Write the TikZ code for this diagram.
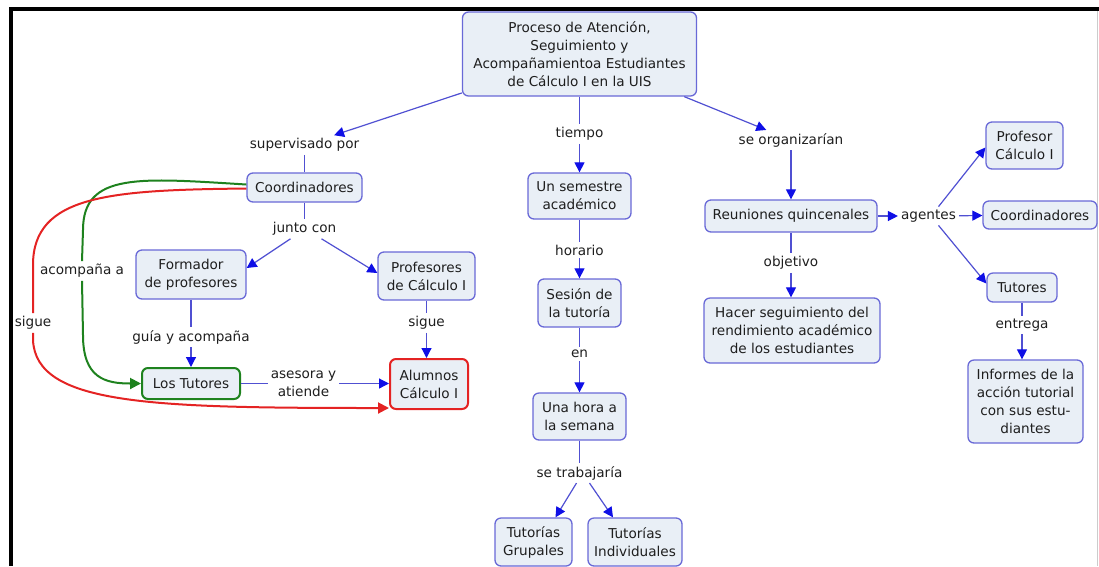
\documentclass[tikz,border=0pt]{standalone}
\usepackage{fontspec}
\setmainfont{DejaVu Sans}
\usetikzlibrary{arrows.meta,calc}
\definecolor{boxfill}{RGB}{233,239,246}
\definecolor{boxdraw}{RGB}{105,105,215}
\definecolor{linkc}{RGB}{80,80,210}
\definecolor{arrc}{RGB}{15,15,230}
\definecolor{grn}{RGB}{30,130,30}
\definecolor{rd}{RGB}{228,35,35}
\definecolor{txt}{RGB}{30,30,30}
\begin{document}
\begin{tikzpicture}[x=1pt,y=-1pt,
  every node/.style={font=\fontsize{13.6}{18}\selectfont, text=txt},
  concept/.style={draw=boxdraw, fill=boxfill, rounded corners=6pt, line width=1.3pt, align=center, inner sep=0pt},
  gconcept/.style={concept, draw=grn, line width=2pt},
  rconcept/.style={concept, draw=rd, line width=2pt},
  phrase/.style={align=center, inner sep=3pt},
  lnk/.style={draw=linkc, line width=1.2pt},
  arr/.style={lnk, -{Triangle[length=10pt,width=10pt,color=arrc]}},
  glnk/.style={draw=grn, line width=2pt},
  garr/.style={glnk, -{Triangle[length=11pt,width=11pt,color=grn]}},
  rlnk/.style={draw=rd, line width=2pt},
  rarr/.style={rlnk, -{Triangle[length=11pt,width=11pt,color=rd]}}
]
\useasboundingbox (0,0) rectangle (1099,566);
% frame
\fill[black] (9,7) rectangle (1099,11);
\fill[black] (9,7) rectangle (13,566);
\draw[black!20, line width=1pt] (1097.5,11) -- (1097.5,566);

% concepts
\node[concept, minimum width=234pt, minimum height=84pt] (top) at (579.5,54) {Proceso de Atención,\\Seguimiento y\\Acompañamientoa Estudiantes\\de Cálculo I en la UIS};
\node[concept, minimum width=115pt, minimum height=29pt] (coordL) at (304.5,187.5) {Coordinadores};
\node[concept, minimum width=110pt, minimum height=49pt] (form) at (191,274.5) {Formador\\de profesores};
\node[concept, minimum width=97pt, minimum height=48pt] (prof) at (426.5,276) {Profesores\\de Cálculo I};
\node[gconcept, minimum width=98pt, minimum height=31pt] (tutL) at (191,383.5) {Los Tutores};
\node[rconcept, minimum width=78pt, minimum height=50pt] (alum) at (429,384) {Alumnos\\Cálculo I};
\node[concept, minimum width=103pt, minimum height=46pt] (sem) at (579.5,196) {Un semestre\\académico};
\node[concept, minimum width=83pt, minimum height=48pt] (ses) at (579.5,303) {Sesión de\\la tutoría};
\node[concept, minimum width=93pt, minimum height=47pt] (hora) at (579.5,416.5) {Una hora a\\la semana};
\node[concept, minimum width=77pt, minimum height=48pt] (grup) at (533.5,542) {Tutorías\\Grupales};
\node[concept, minimum width=94pt, minimum height=48pt] (indiv) at (635,542) {Tutorías\\Individuales};
\node[concept, minimum width=172pt, minimum height=32pt] (reun) at (791,216) {Reuniones quincenales};
\node[concept, minimum width=176pt, minimum height=65pt] (hacer) at (792,330.5) {Hacer seguimiento del\\rendimiento académico\\de los estudiantes};
\node[concept, minimum width=77pt, minimum height=47pt] (profR) at (1024.5,145.5) {Profesor\\Cálculo I};
\node[concept, minimum width=114pt, minimum height=28pt] (coordR) at (1040,215) {Coordinadores};
\node[concept, minimum width=70pt, minimum height=29pt] (tutR) at (1022,287.5) {Tutores};
\node[concept, minimum width=115pt, minimum height=83pt] (inf) at (1025.5,401.5) {Informes de la\\acción tutorial\\con sus estu-\\diantes};

% linking phrases
\node[phrase] (sup) at (304.5,145) {supervisado por};
\node[phrase] (jc) at (304.5,229) {junto con};
\node[phrase] (acomp) at (82,271) {acompaña a};
\node[phrase] (sigL) at (33,323) {sigue};
\node[phrase] (guia) at (191,337) {guía y acompaña};
\node[phrase] (sigR) at (426.5,323) {sigue};
\node[phrase] (ases) at (303.5,383.5) {asesora y\\atiende};
\node[phrase] (tiem) at (579.5,134) {tiempo};
\node[phrase] (hor) at (579.5,250) {horario};
\node[phrase] (en) at (579.5,354) {en};
\node[phrase] (trab) at (579.5,473) {se trabajaría};
\node[phrase] (org) at (791,140) {se organizarían};
\node[phrase] (obj) at (791,263) {objetivo};
\node[phrase] (ag) at (928.5,216) {agentes};
\node[phrase] (entr) at (1022,325) {entrega};

% blue connectors
\draw[arr] (top) -- (sup);
\draw[lnk] (sup) -- (coordL);
\draw[lnk] (top) -- (tiem);
\draw[arr] (tiem) -- (sem);
\draw[arr] (top) -- (org);
\draw[arr] (org) -- (reun);

\draw[lnk] (coordL) -- (jc);
\draw[arr] ([xshift=-14pt]jc.south) -- ([yshift=6.5pt]form.east);
\draw[arr] ([xshift=17pt]jc.south) -- ([yshift=3pt]prof.west);
\draw[lnk] (form) -- (guia);
\draw[arr] (guia) -- (tutL);
\draw[lnk] (prof) -- (sigR);
\draw[arr] (sigR) -- (sigR |- alum.north);
\draw[lnk] (tutL) -- (ases);
\draw[arr] (ases) -- (ases -| alum.west);

\draw[lnk] (sem) -- (hor);
\draw[arr] (hor) -- (ses);
\draw[lnk] (ses) -- (en);
\draw[arr] (en) -- (hora);
\draw[lnk] (hora) -- (trab);
\draw[arr] ([xshift=-3pt]trab.south) -- ([xshift=22pt]grup.north);
\draw[arr] ([xshift=10pt]trab.south) -- ([xshift=-22pt]indiv.north);

\draw[arr] (reun) -- (ag);
\draw[arr] (ag) -- (coordR);
\draw[arr] ([xshift=10pt]ag.north) -- ([yshift=-2pt]profR.west);
\draw[arr] ([xshift=10pt]ag.south) -- ([yshift=4pt]tutR.west);
\draw[lnk] (reun) -- (obj);
\draw[arr] (obj) -- (obj |- hacer.north);
\draw[lnk] (tutR) -- (entr);
\draw[arr] (entr) -- (entr |- inf.north);

% green curve
\draw[glnk] ([yshift=3pt]coordL.west) .. controls (140,178) and (83,172) .. (83,230) -- (acomp.north);
\draw[garr] (acomp.south) -- (83,335) .. controls (83,378) and (105,383.5) .. (tutL.west);
% red curve
\draw[rlnk] ([yshift=-1pt]coordL.west) .. controls (110,190) and (33,195) .. (33,265) -- (sigL.north);
\draw[rarr] (sigL.south) -- (33,340) .. controls (36,405) and (150,408) .. ($(alum.west)+(0,24)$);
\end{tikzpicture}
\end{document}
